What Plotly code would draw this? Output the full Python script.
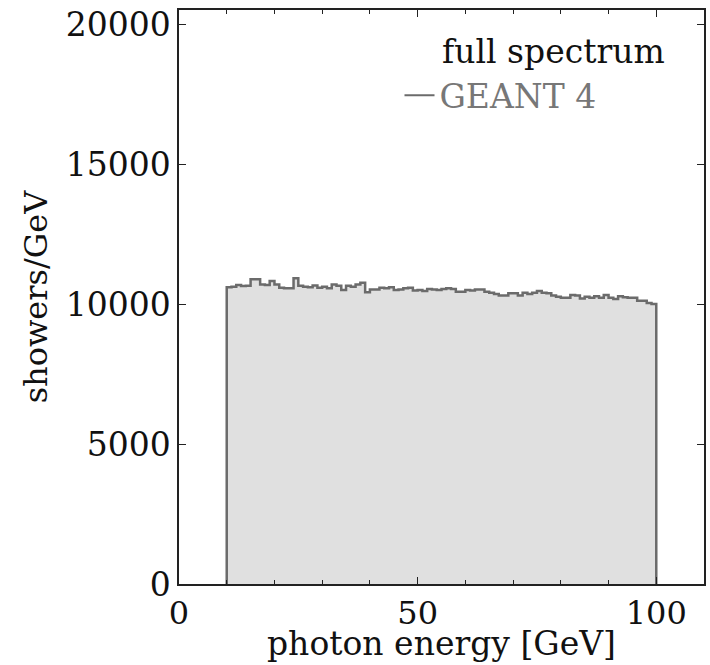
import numpy as np
import plotly.graph_objects as go

# Histogram of photon energies: 1 GeV bins from 10 to 100 GeV
bin_edges = np.arange(10, 101, 1)
counts = [
    10600, 10620, 10680, 10640, 10650, 10880, 10880, 10700, 10680, 10820,
    10700, 10580, 10560, 10560, 10920, 10650, 10620, 10600, 10660, 10580,
    10620, 10560, 10700, 10650, 10500, 10650, 10620, 10700, 10760, 10420,
    10520, 10520, 10580, 10560, 10600, 10500, 10520, 10560, 10580, 10480,
    10500, 10460, 10540, 10520, 10500, 10540, 10560, 10540, 10440, 10440,
    10500, 10480, 10520, 10520, 10440, 10400, 10360, 10300, 10300, 10380,
    10380, 10300, 10400, 10360, 10400, 10460, 10400, 10380, 10300, 10260,
    10220, 10220, 10320, 10300, 10200, 10260, 10220, 10280, 10220, 10320,
    10220, 10180, 10280, 10240, 10220, 10220, 10120, 10120, 10040, 10000,
]
x_ticks = [0, 50, 100]
y_ticks = [0, 5000, 10000, 15000, 20000]

# step outline closed down to zero at both ends
step_x = [bin_edges[0]] + list(bin_edges[:-1]) + [bin_edges[-1]]
step_y = [0] + counts + [0]

FONT = "DejaVu Serif"
FS = 33
LINE_COLOR = "#6b6b6b"

fig = go.Figure()
fig.add_trace(go.Scatter(
    x=step_x, y=step_y, mode="lines", line_shape="hv",
    line=dict(color=LINE_COLOR, width=2.5),
    fill="tozeroy", fillcolor="#e0e0e0",
    showlegend=False, hoverinfo="skip",
))
# legend entry drawn as a plain line sample
fig.add_trace(go.Scatter(
    x=[None], y=[None], mode="lines",
    line=dict(color=LINE_COLOR, width=2),
    name="GEANT 4", showlegend=True,
))

axis_common = dict(
    showgrid=False, zeroline=False, showline=True, linecolor="#222",
    linewidth=1.5, mirror="allticks", ticks="inside", tickcolor="#222",
)

fig.update_layout(
    width=710, height=665,
    margin=dict(l=179, r=4, t=10, b=81),
    paper_bgcolor="white", plot_bgcolor="white",
    font=dict(family=FONT, color="#111"),
    showlegend=True,
    legend=dict(
        x=0.42, y=0.9, xanchor="left", yanchor="top",
        bgcolor="rgba(0,0,0,0)", font=dict(family=FONT, size=FS, color="#777"),
        itemwidth=30, tracegroupgap=0,
    ),
    annotations=[
        dict(
            text="full spectrum", x=0.497, y=0.966, xref="paper", yref="paper",
            xanchor="left", yanchor="top", showarrow=False,
            font=dict(family=FONT, size=FS, color="#111"),
        ),
        # x-axis title placed as a paper annotation
        dict(
            text="photon energy [GeV]", x=0.5, y=-0.104, xref="paper", yref="paper",
            xanchor="center", yanchor="middle", showarrow=False,
            font=dict(family=FONT, size=FS, color="#111"),
        ),
    ],
)
fig.update_xaxes(
    range=[0, 110], tickvals=x_ticks, ticktext=[str(v) for v in x_ticks],
    ticklen=7, tickwidth=1.2,
    tickfont=dict(family=FONT, size=32, color="#111"),
    minor=dict(dtick=10, ticks="inside", ticklen=4, tickcolor="#222"),
    **axis_common,
)
fig.update_yaxes(
    range=[0, 20500], tickvals=y_ticks, ticktext=[str(v) for v in y_ticks],
    ticklen=7, tickwidth=1.2,
    tickfont=dict(family=FONT, size=FS, color="#111"),
    title=dict(text="showers/GeV", font=dict(family=FONT, size=32), standoff=8),
    **axis_common,
)

fig.write_html("out.html")
